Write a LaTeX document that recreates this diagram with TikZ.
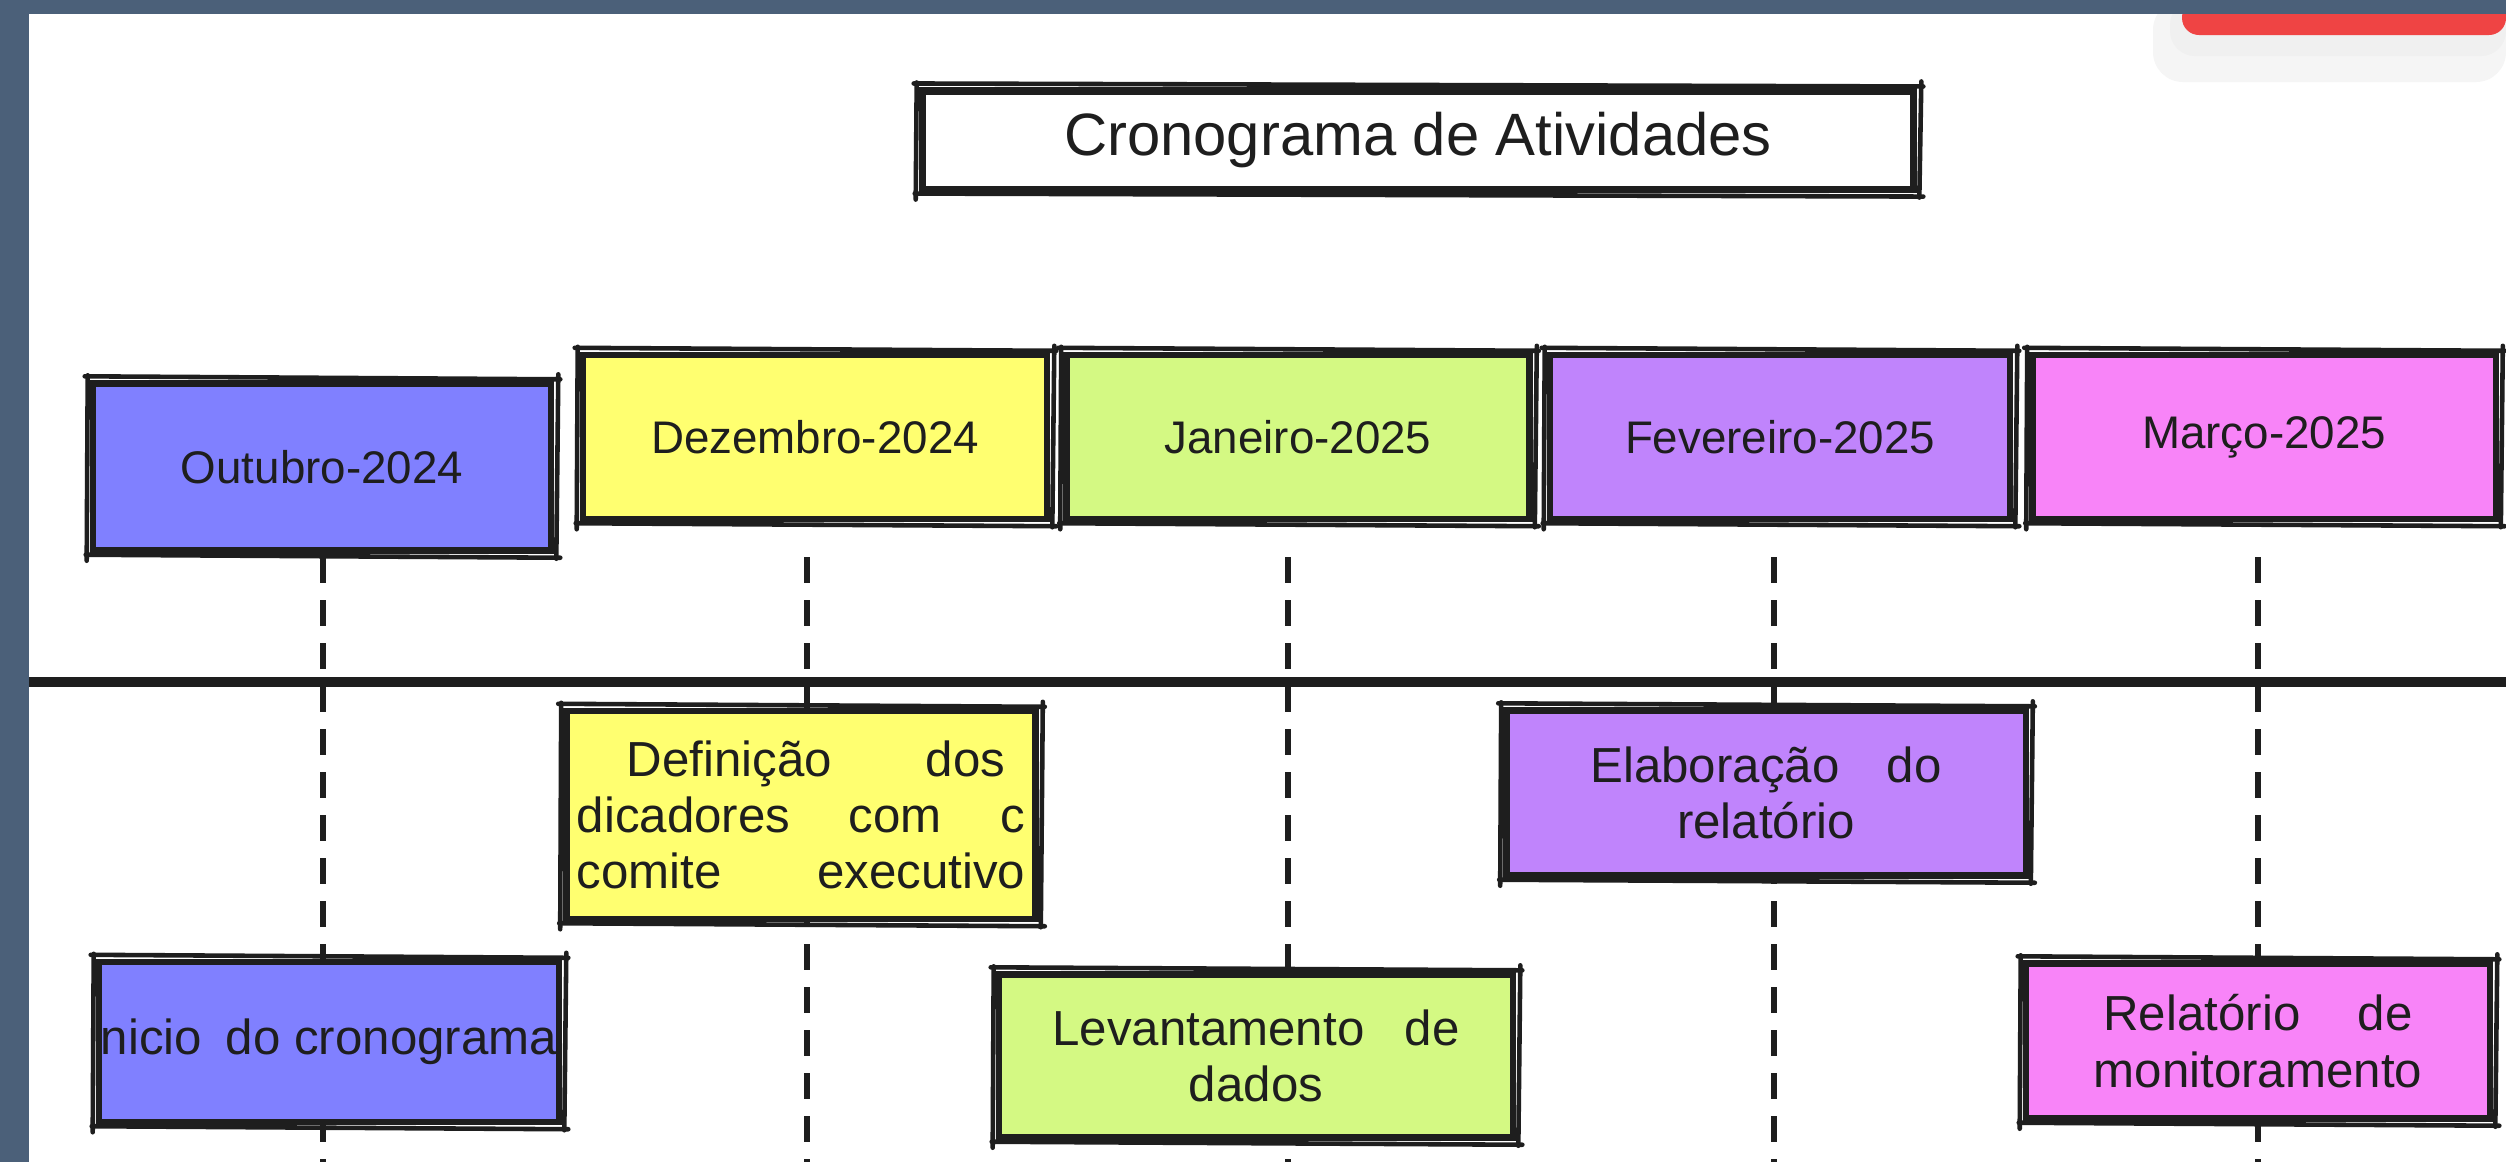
\documentclass[tikz,border=0pt]{standalone}
\usepackage{fontspec}
\setmainfont{Liberation Sans}
\definecolor{ink}{HTML}{1E1E1E}
\definecolor{band}{HTML}{4B6079}
\definecolor{cblue}{HTML}{8080FF}
\definecolor{cyellow}{HTML}{FFFF70}
\definecolor{cgreen}{HTML}{D4F983}
\definecolor{cpurple}{HTML}{C084FC}
\definecolor{cpink}{HTML}{F884F8}
\definecolor{cred}{HTML}{EF4444}
\newcommand{\titlefont}{\fontsize{17}{20}\selectfont}
\newcommand{\monthfont}{\fontsize{13}{16}\selectfont}
\newcommand{\taskfont}{\fontsize{14}{16}\selectfont}
\tikzset{
  box/.style={draw=ink, line width=1.8pt, inner sep=0pt, text=ink, align=center},
  monthbox/.style={box, font=\monthfont, minimum height=1.64cm},
  taskbox/.style={box, font=\taskfont},
  rough/.style={draw=ink, line width=1.3pt, line cap=round},
  dashline/.style={draw=ink, line width=1.8pt, dash pattern=on 0.26cm off 0.17cm},
  axis/.style={draw=ink, line width=2.8pt},
}
\newcommand{\roughen}[1]{%
  \draw[rough] ([shift={(-5,-4)}]#1.north west) -- ([shift={(6,-1)}]#1.north east);
  \draw[rough] ([shift={(4,-6)}]#1.north east) -- ([shift={(2,5)}]#1.south east);
  \draw[rough] ([shift={(6,4)}]#1.south east) -- ([shift={(-4,1)}]#1.south west);
  \draw[rough] ([shift={(-3,7)}]#1.south west) -- ([shift={(-2,-5)}]#1.north west);
}
\begin{document}
\begin{tikzpicture}[x=0.01cm, y=-0.01cm]
\useasboundingbox (0,0) rectangle (2506,1162);
% frame and background
\fill[band] (0,0) rectangle (2506,1162);
\fill[white] (29,14) rectangle (2506,1162);
\fill[black!4, rounded corners=0.3cm] (2153,0) rectangle (2506,82);
\fill[black!6, rounded corners=0.25cm] (2170,0) rectangle (2506,56);
\fill[cred, rounded corners=0.17cm] (2182,0) rectangle (2506,35);
\fill[band] (2100,0) rectangle (2506,14);

% title
\node[box, fill=white, line width=2pt, font=\titlefont, minimum width=9.91cm, minimum height=0.98cm] (title) at (1418,140) {Cronograma de Atividades};
\roughen{title}

% axis coordinates
\coordinate (axl) at (29,682);
\coordinate (axr) at (2506,682);
\foreach \i/\x in {1/323,2/807,3/1288,4/1774,5/2258} {
  \coordinate (t\i) at (\x,557);
  \coordinate (b\i) at (\x,1162);
}

% month boxes
\node[monthbox, fill=cblue, minimum width=4.58cm, minimum height=1.67cm] (m1) at (322,467) {Outubro-2024};
\node[monthbox, fill=cyellow, minimum width=4.64cm] (m2) at (815,437) {Dezembro-2024};
\node[monthbox, fill=cgreen, minimum width=4.63cm] (m3) at (1298,437) {Janeiro-2025};
\node[monthbox, fill=cpurple, minimum width=4.60cm] (m4) at (1780,437) {Fevereiro-2025};
\node[monthbox, fill=cpink, minimum width=4.63cm] (m5) at (2264,437) {Março-2025};
\foreach \n in {m1,m2,m3,m4,m5} {\roughen{\n}}

% dashed drop lines and axis
\foreach \i in {1,...,5} {\draw[dashline] (t\i) -- (b\i);}
\draw[axis] (axl) -- (axr);

% task boxes
\node[taskbox, fill=cblue, minimum width=4.60cm, minimum height=1.60cm] (k1) at (329,1042)
  {\makebox[4.56cm][s]{nicio\hfill do cronograma}};
\node[taskbox, fill=cyellow, minimum width=4.69cm, minimum height=2.08cm] (k2) at (801,815)
  {\makebox[4.48cm]{\hspace*{0.5cm}Definição\hfill dos\hspace*{0.2cm}}\\
   \makebox[4.48cm]{dicadores\hfill com\hfill c}\\
   \makebox[4.48cm]{comite\hfill executivo}};
\node[taskbox, fill=cgreen, minimum width=5.14cm, minimum height=1.63cm] (k3) at (1256,1056)
  {\makebox[4.07cm]{Levantamento\hfill de}\\ dados};
\node[taskbox, fill=cpurple, minimum width=5.19cm, minimum height=1.65cm] (k4) at (1766,793)
  {\makebox[3.51cm]{Elaboração\hfill do}\\ relatório};
\node[taskbox, fill=cpink, minimum width=4.64cm, minimum height=1.55cm] (k5) at (2258,1041)
  {\makebox[3.09cm]{Relatório\hfill de}\\ monitoramento};
\foreach \n in {k1,k2,k3,k4,k5} {\roughen{\n}}
\end{tikzpicture}
\end{document}
